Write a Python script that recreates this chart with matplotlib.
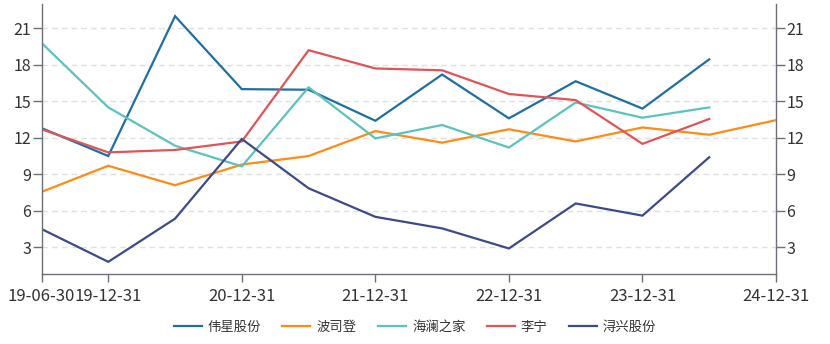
import numpy as np
import matplotlib
matplotlib.use("Agg")
import matplotlib.pyplot as plt

plt.rcParams['font.family'] = ['Noto Sans CJK SC', 'DejaVu Sans']

# half-year report dates (category axis)
dates = ["19-06-30", "19-12-31", "20-06-30", "20-12-31", "21-06-30", "21-12-31",
         "22-06-30", "22-12-31", "23-06-30", "23-12-31", "24-06-30", "24-12-31"]
shown_labels = ["19-06-30", "19-12-31", "20-12-31", "21-12-31",
                "22-12-31", "23-12-31", "24-12-31"]

weixing = [12.8, 10.5, 22.0, 16.0, 15.95, 13.4, 17.2, 13.6, 16.65, 14.4, 18.45, None]
bosideng = [7.55, 9.7, 8.1, 9.8, 10.5, 12.55, 11.6, 12.7, 11.7, 12.85, 12.25, 13.45]
hailan = [19.8, 14.5, 11.35, 9.65, 16.15, 11.95, 13.05, 11.2, 14.9, 13.65, 14.5, None]
lining = [12.7, 10.8, 11.0, 11.7, 19.2, 17.7, 17.55, 15.6, 15.1, 11.5, 13.55, None]
xunxing = [4.5, 1.8, 5.35, 11.9, 7.85, 5.5, 4.55, 2.9, 6.6, 5.6, 10.4, None]

series = [("伟星股份", weixing, "#1f6fa3"),
          ("波司登", bosideng, "#ff8a14"),
          ("海澜之家", hailan, "#5cc2bc"),
          ("李宁", lining, "#e05457"),
          ("浔兴股份", xunxing, "#3d4a8a")]

W, H = 830, 344
fig = plt.figure(figsize=(W / 100, H / 100), dpi=100)
ax = fig.add_axes([41.5 / W, (H - 274) / H, (776 - 41.5) / W, (274 - 4) / H])

x = np.arange(len(dates))
for name, vals, color in series:
    y = np.array([np.nan if v is None else v for v in vals], dtype=float)
    ax.plot(x, y, color=color, lw=1.6, label=name, solid_joinstyle="miter")

ax.set_xlim(0, len(dates) - 1)
ax.set_ylim(0.8, 23.0)

ax.set_yticks([3, 6, 9, 12, 15, 18, 21])
ax.yaxis.grid(True, color="#e0e0e0", linestyle=(0, (4, 3)), lw=1.0)
ax.set_axisbelow(True)

tick_pos = [dates.index(d) for d in shown_labels]
ax.set_xticks(tick_pos)
ax.set_xticklabels(shown_labels)

axis_color = "#6e7079"
for side in ["left", "right", "bottom"]:
    ax.spines[side].set_color(axis_color)
    ax.spines[side].set_linewidth(1.0)
ax.spines["top"].set_visible(False)

ax.tick_params(axis="y", left=True, right=True, labelleft=True, labelright=True,
               length=6.5, width=1.0, color=axis_color, labelcolor="#333333",
               labelsize=11.5, pad=1.0)
ax.tick_params(axis="x", length=6, width=1.0, color=axis_color,
               labelcolor="#333333", labelsize=12, pad=4)

fig.legend(loc="center", bbox_to_anchor=(0.5, 17 / H), ncol=5, frameon=False,
           fontsize=9.6, handlelength=2.1, handletextpad=0.45, columnspacing=1.6,
           labelcolor="#333333")

fig.savefig("out.png", dpi=100)
